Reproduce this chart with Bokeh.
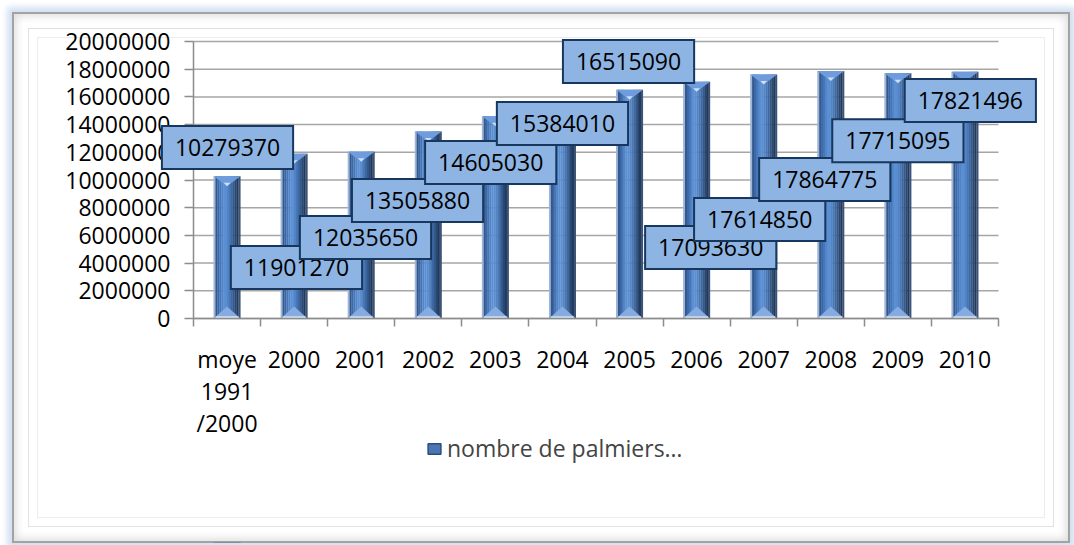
from bokeh.plotting import figure
from bokeh.models import (Range1d, FixedTicker, Label, Legend, LegendItem,
                          NumeralTickFormatter, LinearAxis)
from bokeh.embed import file_html
from bokeh.resources import INLINE

# ---- data ----
categories = ["moye\n1991\n/2000", "2000", "2001", "2002", "2003", "2004",
              "2005", "2006", "2007", "2008", "2009", "2010"]
palmiers = [10279370, 11901270, 12035650, 13505880, 14605030, 15384010,
            16515090, 17093630, 17614850, 17864775, 17715095, 17821496]
series_name = "nombre de palmiers…"
y_ticks = [0, 2000000, 4000000, 6000000, 8000000, 10000000, 12000000,
           14000000, 16000000, 18000000, 20000000]

# ---- layout of data-label boxes (category offset, height as fraction of axis) ----
label_dx = [0.007, 0.035, 0.064, -0.16, -0.07, 0.0, -0.015, 0.21, -0.06, -0.09, 0.0, 0.08]
label_fy = [0.617, 0.184, 0.292, 0.426, 0.563, 0.704, 0.928, 0.256, 0.357, 0.502, 0.642, 0.787]

FONT = "Open Sans"
FS = "23px"
n = len(categories)
YMAX = y_ticks[-1]

# canvas geometry (px)
CW, CH = 1058, 531
AX_L, AX_R = 181, 986      # plot area left/right
AX_T, AX_B = 29, 306       # plot area top/bottom
cat_px = (AX_R - AX_L) / n
px = YMAX / (AX_B - AX_T)  # data units per pixel (y)

x_range = Range1d(-AX_L / cat_px, (CW - AX_L) / cat_px)
y_range = Range1d(-(CH - AX_B) * px, YMAX + AX_T * px)

p = figure(width=CW, height=CH, x_range=x_range, y_range=y_range,
           output_backend="svg", toolbar_location=None,
           x_axis_location=None, y_axis_location=None, min_border=0)
p.margin = (12, 0, 0, 12)
p.border_fill_alpha = 0
p.background_fill_alpha = 0
p.outline_line_color = None
p.xgrid.visible = False
p.ygrid.visible = False
p.styles = {
    "background-color": "white",
    "box-shadow": ("inset 0 0 0 2px #a3a3a3, inset 0 0 8px 4px #dcdcdc, "
                   "inset 0 0 0 16px white, inset 0 0 0 17px #e2e2e2, "
                   "inset 0 0 0 25px white, inset 0 0 0 26px #ececec, "
                   "0 0 6px 5px #d3e0f2"),
}

centers = [i + 0.5 for i in range(n)]

# ---- gridlines (plot area only) ----
p.segment(x0=[0] * len(y_ticks), x1=[n] * len(y_ticks), y0=y_ticks, y1=y_ticks,
          line_color="#a6a6a6", line_width=1.5)

# ---- bars as shaded strips ----
bar_w = 0.4
strip_colors = ["#9fb4d6", "#32598f", "#3c68a6", "#4676b8", "#5185c8", "#5a8fd3", "#5a8ed1",
                "#5284c6", "#4877b6", "#3e68a2", "#34598b", "#2a4872", "#223a5c", "#3d5478"]
ns = len(strip_colors)
sw = bar_w / ns
for k, c in enumerate(strip_colors):
    xs = [cx - bar_w / 2 + (k + 0.5) * sw for cx in centers]
    p.vbar(x=xs, top=palmiers, bottom=0, width=sw * 1.12, fill_color=c, line_color=None)

# top caps (inverted pyramid face) and bottom caps
cap_top_x, cap_top_y, cap_bot_x, cap_bot_y = [], [], [], []
hl_x, hl_y = [], []
for cx, v in zip(centers, palmiers):
    cap_top_x.append([cx - bar_w / 2, cx + bar_w / 2, cx])
    cap_top_y.append([v, v, v - 10 * px])
    hl_x.append([cx - bar_w / 8, cx + bar_w / 8, cx])
    hl_y.append([v - 6.5 * px, v - 6.5 * px, v - 10 * px])
    cap_bot_x.append([cx - bar_w / 2, cx + bar_w / 2, cx])
    cap_bot_y.append([0, 0, 12 * px])
p.patches(cap_top_x, cap_top_y, fill_color="#6e9cdc", line_color=None)
p.patches(hl_x, hl_y, fill_color="#cfe0f7", line_color=None)
p.patches(cap_bot_x, cap_bot_y, fill_color="#86abe0", line_color=None)
p.vbar(x=centers, top=[2.2 * px] * n, bottom=0, width=bar_w * 0.85,
       fill_color="#d5e4f7", line_color=None)

# renderer used only for the legend swatch (outside the visible range)
legend_r = p.vbar(x=[centers[0]], top=[-10 * YMAX], bottom=-11 * YMAX, width=bar_w,
                  fill_color="#4a76b3", line_color="#2c4d7c", line_width=1.5)

# ---- axes (fixed at the plot-area origin) ----
yaxis = LinearAxis(fixed_location=0, bounds=(0, YMAX))
yaxis.ticker = FixedTicker(ticks=y_ticks)
yaxis.formatter = NumeralTickFormatter(format="0")
yaxis.axis_line_color = "#8c8c8c"
yaxis.axis_line_width = 1.5
yaxis.major_tick_line_color = "#8c8c8c"
yaxis.major_tick_line_width = 1.5
yaxis.major_tick_out = 9
yaxis.major_tick_in = 0
yaxis.minor_tick_line_color = None
yaxis.major_label_text_font = FONT
yaxis.major_label_text_font_size = FS
yaxis.major_label_text_color = "black"
yaxis.major_label_standoff = 14
p.add_layout(yaxis, "left")

xaxis = LinearAxis(fixed_location=0, bounds=(0, n))
xaxis.ticker = FixedTicker(ticks=centers, minor_ticks=list(range(n + 1)))
xaxis.major_label_overrides = {c: lab for c, lab in zip(centers, categories)}
xaxis.axis_line_color = "#8c8c8c"
xaxis.axis_line_width = 1.5
xaxis.major_tick_line_color = None
xaxis.major_tick_out = 8
xaxis.major_tick_in = 0
xaxis.minor_tick_line_color = "#8c8c8c"
xaxis.minor_tick_line_width = 1.5
xaxis.minor_tick_out = 8
xaxis.minor_tick_in = 0
xaxis.major_label_text_font = FONT
xaxis.major_label_text_font_size = FS
xaxis.major_label_text_color = "black"
xaxis.major_label_text_line_height = 1.0
xaxis.major_label_standoff = 16
p.add_layout(xaxis, "below")

# ---- data labels ----
for cx, v, dx, fy in zip(centers, palmiers, label_dx, label_fy):
    p.add_layout(Label(x=cx + dx, y=fy * YMAX, text=str(v), text_align="center",
                       text_baseline="middle", text_font=FONT, text_font_size=FS,
                       text_color="black", background_fill_color="#8db4e2",
                       border_line_color="#17375e", border_line_width=2,
                       border_line_join="miter", border_radius=0, padding=13))

# ---- legend ----
legend = Legend(items=[LegendItem(label=series_name, renderers=[legend_r])],
                location=(414, 79), label_text_font=FONT, label_text_font_size=FS,
                glyph_width=16, glyph_height=13, padding=0, margin=0,
                border_line_color=None, background_fill_alpha=0)
p.add_layout(legend, "center")

open("out.html", "w").write(file_html(p, INLINE))
